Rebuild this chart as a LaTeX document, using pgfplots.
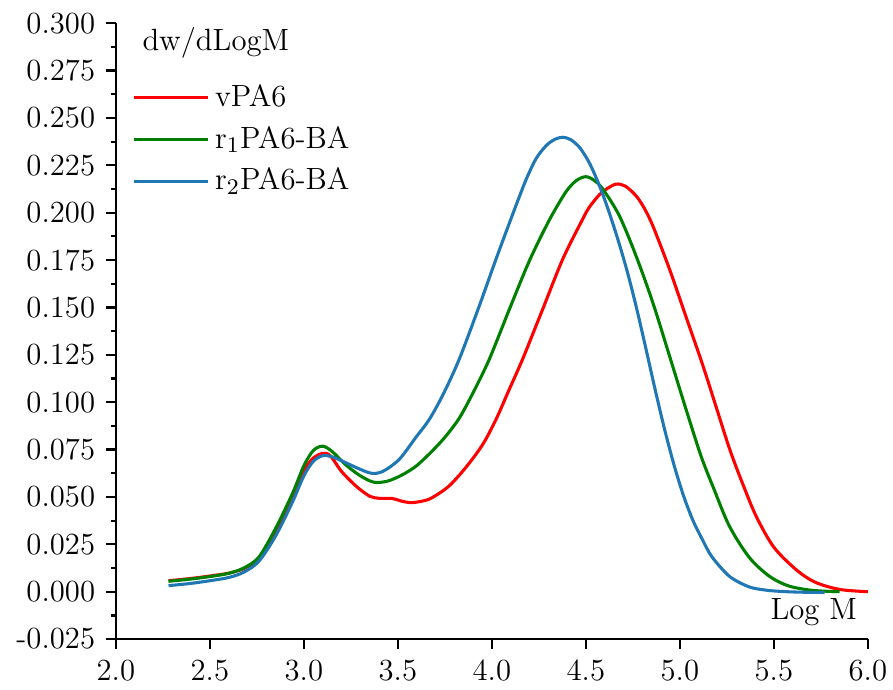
\documentclass[border=0pt]{standalone}
\usepackage{pgfplots}
\usepackage{pgfplotstable}
\pgfplotsset{compat=1.18}
\definecolor{cred}{RGB}{255,0,0}
\definecolor{cgreen}{RGB}{0,128,0}
\definecolor{cblue}{RGB}{31,119,180}
\pgfplotstableread{
x y
2.28 0.0058
2.40 0.0070
2.50 0.0083
2.60 0.0098
2.68 0.0122
2.76 0.0175
2.85 0.0320
2.94 0.0500
3.00 0.0640
3.05 0.0705
3.10 0.0730
3.14 0.0718
3.20 0.0635
3.28 0.0555
3.35 0.0504
3.40 0.0493
3.47 0.0492
3.52 0.0478
3.57 0.0470
3.63 0.0478
3.68 0.0495
3.77 0.0556
3.86 0.0654
3.95 0.0775
4.022 0.0909
4.09 0.1062
4.163 0.1226
4.270 0.1490
4.377 0.1755
4.483 0.1966
4.519 0.2030
4.572 0.2095
4.61 0.2125
4.661 0.2151
4.71 0.2140
4.767 0.2089
4.81 0.2025
4.856 0.1931
4.945 0.1702
5.033 0.1450
5.122 0.1195
5.193 0.0975
5.264 0.0755
5.33 0.0580
5.406 0.0398
5.50 0.0235
5.619 0.0116
5.72 0.0050
5.85 0.0012
6.00 0.0000
}\redtab
\pgfplotstableread{
x y
2.28 0.0055
2.40 0.0067
2.50 0.0080
2.60 0.0097
2.68 0.0125
2.76 0.0182
2.85 0.0335
2.94 0.0520
3.00 0.0665
3.05 0.0745
3.10 0.0768
3.15 0.0740
3.22 0.0672
3.29 0.0618
3.35 0.0585
3.39 0.0576
3.45 0.0585
3.52 0.0615
3.596 0.0662
3.68 0.0740
3.75 0.0815
3.826 0.0915
3.90 0.1050
3.986 0.1226
4.093 0.1490
4.199 0.1745
4.306 0.1962
4.394 0.2110
4.45 0.2170
4.50 0.2190
4.545 0.2170
4.590 0.2125
4.678 0.1984
4.767 0.1772
4.856 0.1526
4.945 0.1244
5.033 0.0962
5.113 0.0715
5.18 0.0545
5.264 0.0345
5.37 0.0180
5.477 0.0081
5.58 0.0030
5.706 0.0007
5.85 0.0000
}\greentab
\pgfplotstableread{
x y
2.28 0.0032
2.40 0.0044
2.50 0.0058
2.60 0.0075
2.68 0.0103
2.76 0.0160
2.85 0.0295
2.94 0.0475
3.00 0.0612
3.05 0.0688
3.10 0.0718
3.15 0.0712
3.22 0.0682
3.29 0.0650
3.36 0.0625
3.42 0.0635
3.507 0.0698
3.596 0.0815
3.667 0.0909
3.74 0.1040
3.826 0.1226
3.933 0.1508
4.022 0.1755
4.110 0.1990
4.18 0.2170
4.235 0.2285
4.29 0.2355
4.335 0.2387
4.377 0.2398
4.42 0.2385
4.47 0.2340
4.52 0.2260
4.57 0.2148
4.62 0.2013
4.67 0.1860
4.72 0.1690
4.77 0.1495
4.82 0.1280
4.87 0.1060
4.92 0.0852
4.97 0.0665
5.02 0.0505
5.07 0.0375
5.12 0.0275
5.17 0.0185
5.264 0.0081
5.37 0.0025
5.47 0.0007
5.57 0.0000
5.67 -0.0003
5.77 -0.0004
}\bluetab
\begin{document}
\fontsize{11}{13}\selectfont
\begin{tikzpicture}
\useasboundingbox (-41.5pt,-17.9pt) rectangle (278.2pt,228.8pt);
\begin{axis}[
  at={(0pt,0pt)}, anchor=south west,
  scale only axis, width=269.2pt, height=220.5pt,
  xmin=2, xmax=6, ymin=-0.025, ymax=0.3,
  axis x line*=bottom, axis y line*=left,
  axis line style={line width=1pt, black},
  xtick={2,2.5,3,3.5,4,4.5,5,5.5,6},
  ytick={-0.025,0,0.025,0.05,0.075,0.1,0.125,0.15,0.175,0.2,0.225,0.25,0.275,0.3},
  minor y tick num=1,
  tick align=outside,
  major tick length=3.6pt, minor tick length=1.8pt,
  every tick/.style={line width=0.8pt, black},
  scaled y ticks=false, scaled x ticks=false,
  /pgf/number format/assume math mode=true,
  xticklabel style={/pgf/number format/.cd, fixed, fixed zerofill, precision=1},
  yticklabel style={/pgf/number format/.cd, fixed, fixed zerofill, precision=3},
  tick label style={font=\fontsize{11}{13}\selectfont},
  legend style={draw=none, fill=none, at={(0.01,0.92)}, anchor=north west,
    font=\fontsize{11}{13}\selectfont, row sep=1.5pt, cells={anchor=west}},
  legend image code/.code={\draw[#1, line width=1.1pt] (0pt,0pt) -- (26.5pt,0pt);},
  clip=false,
]
\addplot[cred, line width=1.1pt, smooth] table[x=x,y=y] {\redtab};
\addlegendentry{vPA6}
\addplot[cgreen, line width=1.1pt, smooth] table[x=x,y=y] {\greentab};
\addlegendentry{r$_1$PA6-BA}
\addplot[cblue, line width=1.1pt, smooth] table[x=x,y=y] {\bluetab};
\addlegendentry{r$_2$PA6-BA}
\node[anchor=base west, font=\fontsize{11}{13}\selectfont] at (rel axis cs:0.021,0.956) {dw/dLogM};
\node[anchor=base east, font=\fontsize{11}{13}\selectfont] at (rel axis cs:1,0.031) {Log M};
\end{axis}
\end{tikzpicture}
\end{document}
